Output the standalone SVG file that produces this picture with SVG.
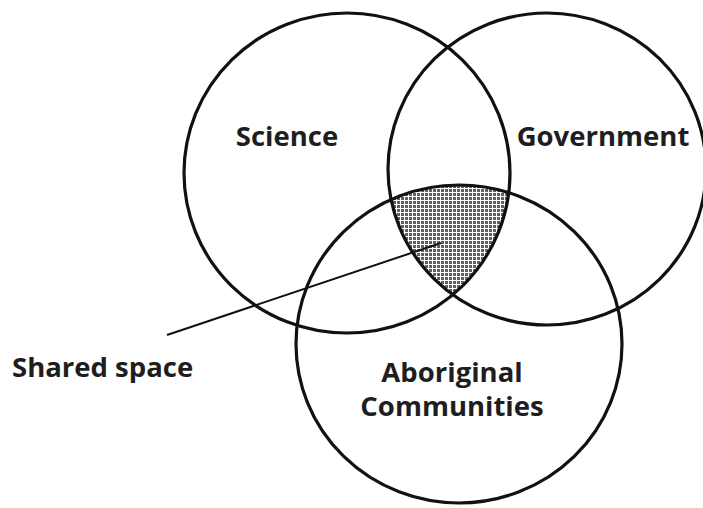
<svg xmlns="http://www.w3.org/2000/svg" width="703" height="508" viewBox="0 0 703 508">
<style>
.c{fill:none;stroke:#111;stroke-width:3.2}
.t{font-family:"Open Sans","Noto Sans","Liberation Sans",sans-serif;font-weight:bold;font-size:27.5px;fill:#1e1e1e}
.m{text-anchor:middle}
.l{stroke:#111;stroke-width:2;fill:none}
</style>
<defs>
<pattern id="grid" width="4" height="4" patternUnits="userSpaceOnUse">
<rect width="4" height="4" fill="#5e5e5e"/>
<path d="M0.5 0V4M0 0.5H4" stroke="#fff" stroke-width="1.1"/>
</pattern>
<clipPath id="cS"><ellipse cx="347" cy="173" rx="163" ry="160"/></clipPath>
<clipPath id="cG"><ellipse cx="547" cy="169" rx="159" ry="156"/></clipPath>
</defs>
<rect width="703" height="508" fill="#fff"/>
<g id="shared">
<g clip-path="url(#cS)"><g clip-path="url(#cG)"><ellipse cx="459" cy="344" rx="163" ry="159" fill="url(#grid)"/></g></g>
</g>
<g id="science"><ellipse class="c" cx="347" cy="173" rx="163" ry="160"/><text class="t m" x="287" y="146">Science</text></g>
<g id="government"><ellipse class="c" cx="547" cy="169" rx="159" ry="156"/><text class="t m" x="603" y="146">Government</text></g>
<g id="aboriginal"><ellipse class="c" cx="459" cy="344" rx="163" ry="159"/><text class="t m" x="452" y="382">Aboriginal</text><text class="t m" x="452" y="416">Communities</text></g>
<g id="connectors"><line class="l" x1="167" y1="335" x2="441" y2="243"/></g>
<g id="label"><text class="t" x="12" y="377">Shared space</text></g>
</svg>
